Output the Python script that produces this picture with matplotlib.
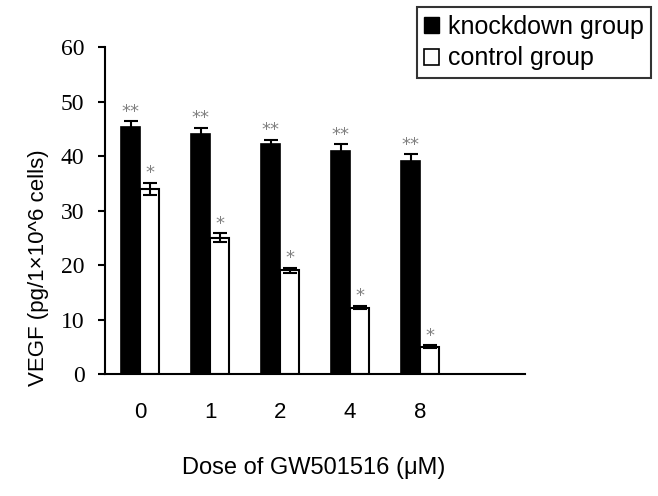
import numpy as np
import matplotlib.pyplot as plt
from matplotlib.patches import Patch

doses = ['0', '1', '2', '4', '8']
knockdown = [45.3, 44.1, 42.2, 41.0, 39.1]
knockdown_err = [1.1, 1.1, 0.8, 1.2, 1.2]
control = [34.0, 25.0, 19.0, 12.2, 5.0]
control_err = [1.1, 0.8, 0.5, 0.3, 0.3]
knockdown_mark = ['**'] * 5
control_mark = ['*'] * 5

plt.rcParams['font.family'] = ['Liberation Sans', 'DejaVu Sans']

fig = plt.figure(figsize=(6.58, 4.96), dpi=100)
ax = fig.add_axes([0.16, 0.246, 0.638, 0.659])

x = np.arange(len(doses))
w = 0.27
ax.bar(x - w / 2, knockdown, w, color='black', edgecolor='black', linewidth=1.2,
       yerr=knockdown_err, error_kw=dict(ecolor='black', elinewidth=1.5, capsize=5, capthick=1.5))
ax.bar(x + w / 2, control, w, color='white', edgecolor='black', linewidth=1.5,
       yerr=control_err, error_kw=dict(ecolor='black', elinewidth=1.5, capsize=5, capthick=1.5))

# significance marks
for i in range(len(doses)):
    ax.text(x[i] - w / 2, knockdown[i] + knockdown_err[i] + 0.1, knockdown_mark[i],
            ha='center', va='bottom', color='#808080', fontsize=13, family='DejaVu Sans')
    ax.text(x[i] + w / 2, control[i] + control_err[i] + 0.1, control_mark[i],
            ha='center', va='bottom', color='#808080', fontsize=13, family='DejaVu Sans')

ax.set_xlim(-0.5, 5.5)
ax.set_ylim(0, 60)
ax.set_xticks(x)
ax.set_xticklabels(doses, fontsize=16)
ax.tick_params(axis='x', length=0, pad=20)
ax.set_yticks(range(0, 61, 10))
ax.set_yticklabels([str(v) for v in range(0, 61, 10)], family='Liberation Serif', fontsize=17)
ax.tick_params(axis='y', direction='out', length=5, width=1.5, pad=10)
for s in ['top', 'right']:
    ax.spines[s].set_visible(False)
for s in ['left', 'bottom']:
    ax.spines[s].set_linewidth(1.5)

fig.text(0.058, 0.46, 'VEGF (pg/1\u00d710^6 cells)', rotation=90, ha='center', va='center', fontsize=16)
fig.text(0.476, 0.056, 'Dose of GW501516 (\u03bcM)', ha='center', va='center', fontsize=17)

handles = [Patch(facecolor='black', edgecolor='black'),
           Patch(facecolor='white', edgecolor='black', linewidth=1.2)]
leg = fig.legend(handles, ['knockdown group', 'control group'], loc='upper right',
                 bbox_to_anchor=(0.99, 0.985), fontsize=18, frameon=True, fancybox=False,
                 handlelength=0.6, handleheight=0.6, handletextpad=0.35,
                 borderpad=0.3, labelspacing=0.3, borderaxespad=0)
leg.get_frame().set_edgecolor('black')
leg.get_frame().set_linewidth(1.5)

fig.savefig('out.png', dpi=100)
